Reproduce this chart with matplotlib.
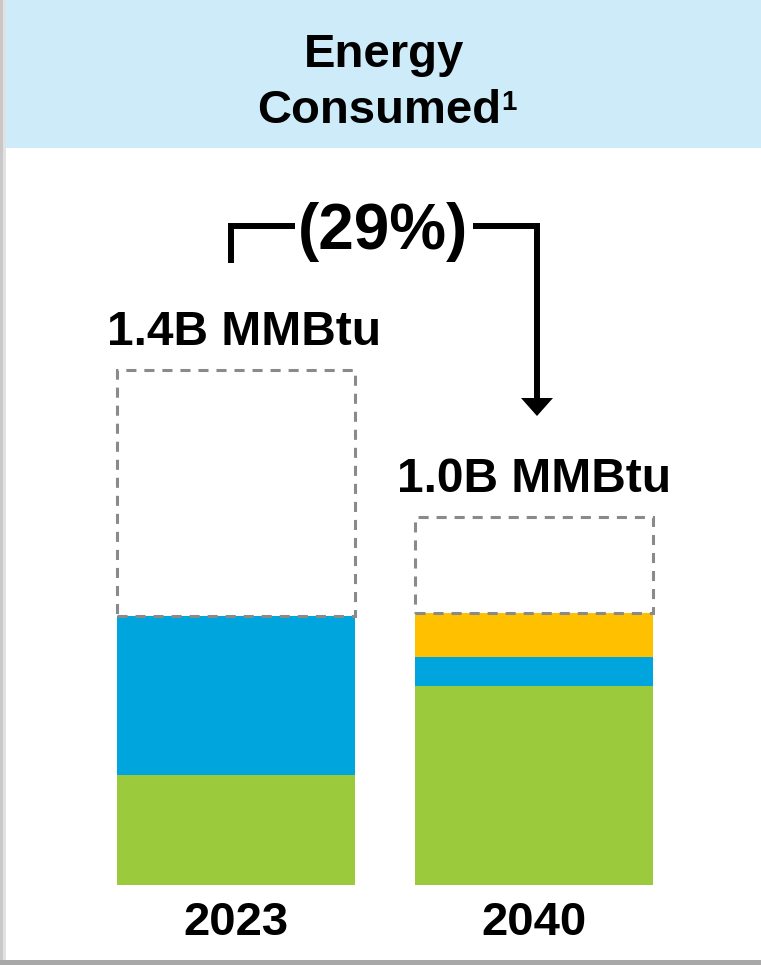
import matplotlib
matplotlib.use("Agg")
import matplotlib.pyplot as plt
from matplotlib.patches import Rectangle, Polygon

plt.rcParams['font.family'] = ['Liberation Sans', 'DejaVu Sans']

# energy consumed, billion MMBtu
years = ['2023', '2040']
totals = [1.4, 1.0]
green = [0.30, 0.54]
blue = [0.43, 0.08]
yellow = [0.0, 0.12]
total_labels = ['1.4B MMBtu', '1.0B MMBtu']
change_label = '(29%)'

GREEN = '#9BCA3C'
BLUE = '#00A5DE'
YELLOW = '#FFC000'
HEADER = '#CDEBF8'
DASH = '#8A8A8A'

W, H = 761, 965
fig = plt.figure(figsize=(W / 100, H / 100), dpi=100)

# background layer in pixel coordinates (y down)
bg = fig.add_axes([0, 0, 1, 1])
bg.set_xlim(0, W)
bg.set_ylim(H, 0)
bg.axis('off')
bg.add_patch(Rectangle((0, 0), 6, 962, color='#C8C8C8', lw=0))
bg.add_patch(Rectangle((3, 0), 3, 962, color='#E2E2E2', lw=0))
bg.add_patch(Rectangle((0, 960), W, 5, color='#A8A8A8', lw=0))
bg.add_patch(Rectangle((6, 0), W - 6, 148, color=HEADER, lw=0))

bg.text(384, 67, 'Energy', ha='center', va='baseline', fontsize=34,
        fontweight='bold', color='black')
bg.text(379, 123, 'Consumed', ha='center', va='baseline', fontsize=34,
        fontweight='bold', color='black')
bg.text(501, 110, '1', ha='left', va='baseline', fontsize=20,
        fontweight='bold', color='black')

# bracket with arrow pointing at the 2040 bar
lw = 4.3
bg.plot([231, 231, 295], [263, 226, 226], color='black', lw=lw,
        solid_joinstyle='miter', solid_capstyle='butt')
bg.plot([473, 537, 537], [226, 226, 400], color='black', lw=lw,
        solid_joinstyle='miter', solid_capstyle='butt')
bg.add_patch(Polygon([[521, 398], [553, 398], [537, 416]], closed=True,
                     color='black', lw=0))
bg.text(383, 232, change_label, ha='center', va='center', fontsize=46,
        fontweight='bold', color='black')

# bar axes: y=0 sits at pixel row 885, 368 px per billion
px_per_unit = 368
ax_bottom = (H - 885) / H
ax_height = 2.4 * px_per_unit / H
ax = fig.add_axes([0, ax_bottom, 1, ax_height])
ax.patch.set_alpha(0)
spacing = 298
ax.set_xlim(-236 / spacing, (W - 236) / spacing)
ax.set_ylim(0, 2.4)
ax.axis('off')

x = [0, 1]
width = 238 / spacing
ax.bar(x, green, width=width, color=GREEN, lw=0)
ax.bar(x, blue, width=width, bottom=green, color=BLUE, lw=0)
filled = [g + b for g, b in zip(green, blue)]
ax.bar(x, yellow, width=width, bottom=filled, color=YELLOW, lw=0)
filled = [f + y for f, y in zip(filled, yellow)]

# dashed outline for the unfilled part of each total
ax.bar(x, [t - f for t, f in zip(totals, filled)], width=width, bottom=filled,
       fill=False, edgecolor=DASH, linewidth=2.2, linestyle=(0, (3.3, 2.6)),
       zorder=3)

label_shift = [6, 0]
for xi, t, lab, yr, dx in zip(x, totals, total_labels, years, label_shift):
    ax.annotate(lab, (xi, t), xytext=(dx, 18), textcoords='offset points',
                ha='center', va='baseline', fontsize=34.5, fontweight='bold')
    ax.annotate(yr, (xi, 0), xytext=(0, -36), textcoords='offset points',
                ha='center', va='baseline', fontsize=34, fontweight='bold')

fig.savefig('out.png', dpi=100)
